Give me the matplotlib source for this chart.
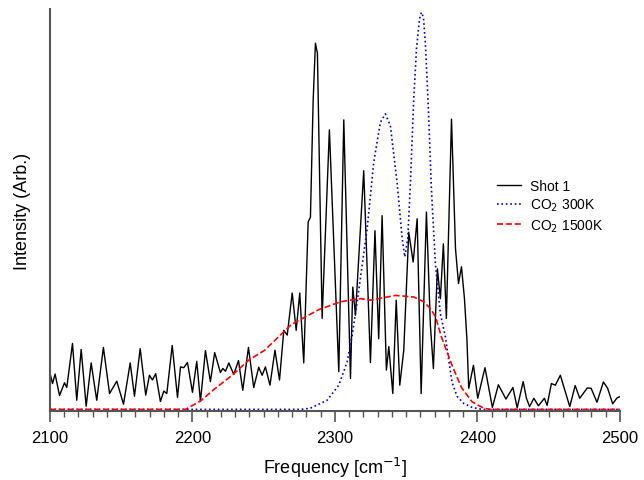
import matplotlib
matplotlib.use("Agg")
import matplotlib.pyplot as plt
from matplotlib.ticker import MultipleLocator

plt.rcParams['font.family'] = ['Liberation Sans', 'DejaVu Sans']

shot_freq = [2100.1, 2101.8, 2103.6, 2106.7, 2110.2, 2111.8, 2115.8, 2118.8, 2121.9, 2125.4,
             2128.9, 2132.8, 2137.5, 2141.8, 2146.9, 2151.6, 2156.3, 2159.3, 2163.3, 2167.2,
             2169.8, 2171.9, 2174.2, 2177.5, 2179.9, 2182.0, 2185.8, 2189.5, 2191.6, 2193.9,
             2196.5, 2200.0, 2203.0, 2205.6, 2209.1, 2212.6, 2215.6, 2219.6, 2221.3, 2223.2,
             2225.5, 2229.0, 2232.3, 2235.3, 2239.3, 2243.0, 2246.5, 2248.9, 2251.2, 2254.4,
             2257.9, 2261.1, 2264.1, 2266.5, 2270.0, 2272.8, 2275.3, 2278.1, 2281.2, 2282.8,
             2284.7, 2286.3, 2287.7, 2291.0, 2296.1, 2302.7, 2306.2, 2310.9, 2312.5, 2314.4,
             2320.2, 2324.9, 2328.1, 2330.7, 2333.1, 2336.1, 2337.8, 2340.6, 2343.0, 2345.5,
             2348.3, 2351.8, 2354.9, 2357.7, 2360.5, 2364.2, 2367.0, 2369.1, 2371.9, 2374.0,
             2376.1, 2378.2, 2381.8, 2384.6, 2386.7, 2388.8, 2390.9, 2392.6, 2393.9, 2397.2,
             2400.2, 2405.3, 2410.5, 2414.7, 2420.0, 2424.9, 2427.9, 2432.1, 2434.4, 2436.6,
             2439.6, 2442.8, 2447.0, 2448.9, 2451.9, 2454.7, 2458.2, 2464.8, 2468.6, 2471.8,
             2477.1, 2479.8, 2483.9, 2488.4, 2491.4, 2494.9, 2498.0, 2500.0]
shot_int = [9.0, 6.5, 8.9, 3.5, 6.7, 5.5, 16.6, 2.3, 15.1, 0.8,
            11.7, 2.3, 15.6, 4.0, 7.1, 1.3, 11.7, 3.3, 15.3, 3.6,
            8.6, 7.4, 9.0, 2.0, 4.6, 4.0, 16.1, 3.0, 10.7, 10.5,
            11.8, 4.3, 12.1, 2.0, 14.8, 7.0, 14.3, 9.3, 10.3, 9.6,
            11.7, 8.8, 12.3, 4.8, 15.6, 5.5, 10.6, 8.6, 10.7, 6.1,
            14.9, 7.4, 19.9, 18.7, 29.3, 19.9, 29.3, 11.7, 47.2, 48.4,
            77.7, 92.2, 89.7, 22.9, 70.4, 9.5, 72.9, 7.8, 30.8, 23.7,
            60.1, 11.8, 45.0, 17.8, 48.8, 9.9, 15.8, 4.0, 27.5, 6.1,
            14.9, 44.6, 37.1, 48.0, 4.0, 49.7, 21.1, 10.3, 35.4, 27.9,
            41.7, 22.9, 73.1, 40.5, 31.7, 35.9, 27.9, 17.8, 5.3, 11.1,
            2.8, 10.5, 0.5, 6.2, 2.6, 5.5, 0.4, 7.0, 2.8, 0.7,
            2.8, 0.9, 2.8, 1.0, 6.5, 6.1, 8.6, 0.7, 6.0, 2.8,
            5.4, 5.3, 1.8, 6.9, 5.3, 1.4, 2.9, 3.2]

# simulated CO2 band at 300 K
co2_300_freq = [2100.0, 2275.8, 2282.8, 2294.5, 2302.7, 2308.6, 2312.1, 2315.6, 2319.1, 2322.6,
                2327.2, 2331.9, 2335.4, 2338.9, 2343.6, 2347.2, 2349.0, 2351.1, 2353.0, 2355.3,
                2357.2, 2359.3, 2360.7, 2362.1, 2363.5, 2365.6, 2367.7, 2370.5, 2374.0, 2377.5,
                2379.9, 2382.2, 2385.7, 2390.4, 2396.3, 2403.3, 2500.0]
co2_300_int = [0.0, 0.0, 0.3, 2.3, 6.1, 12.0, 18.7, 27.1, 36.3, 45.5,
               62.2, 72.3, 74.4, 71.4, 57.2, 43.0, 38.4, 43.0, 57.2, 78.1,
               90.7, 98.2, 100.0, 98.7, 92.0, 75.6, 55.5, 36.7, 24.1, 18.3,
               12.3, 6.8, 3.3, 1.5, 0.5, 0.0, 0.0]

# simulated CO2 band at 1500 K
co2_1500_freq = [2100.0, 2195.1, 2205.6, 2216.1, 2227.9, 2239.5, 2250.7, 2269.5, 2288.6, 2303.9,
                 2317.9, 2324.9, 2342.5, 2355.3, 2362.3, 2367.0, 2370.5, 2374.7, 2382.2, 2388.8,
                 2396.3, 2404.4, 2409.1, 2500.0]
co2_1500_int = [0.0, 0.0, 2.1, 5.3, 8.6, 12.4, 14.9, 21.4, 25.1, 27.1,
                27.9, 27.5, 28.7, 28.3, 27.1, 25.4, 23.4, 18.3, 11.1, 5.5,
                1.9, 0.3, 0.0, 0.0]

fig = plt.figure(figsize=(6.44, 4.81), dpi=100)
ax = fig.add_axes([0.0776, 0.1435, 0.885, 0.8355])

ax.plot(shot_freq, shot_int, color='black', lw=1.0, solid_joinstyle='round', label='Shot 1')
ax.plot(co2_300_freq, co2_300_int, color='#0000cc', lw=1.2, ls=':', label='CO$_2$ 300K')
ax.plot(co2_1500_freq, co2_1500_int, color='red', lw=1.2, ls='--', label='CO$_2$ 1500K')

ax.set_xlim(2100, 2500)
ax.set_ylim(-0.4, 100.8)
ax.xaxis.set_major_locator(MultipleLocator(100))
ax.xaxis.set_minor_locator(MultipleLocator(10))
ax.set_yticks([])

for s in ['top', 'right']:
    ax.spines[s].set_visible(False)
for s in ['left', 'bottom']:
    ax.spines[s].set_color('#555555')
    ax.spines[s].set_linewidth(1.5)

ax.tick_params(axis='x', which='major', direction='out', length=8, width=1.2,
               color='#555555', labelsize=12, pad=6)
ax.tick_params(axis='x', which='minor', direction='out', length=4, width=1.0, color='#555555')

ax.set_xlabel('Frequency [cm$^{-1}$]', fontsize=13, labelpad=7)
ax.set_ylabel('Intensity (Arb.)', fontsize=13, labelpad=14)

ax.legend(loc='upper left', bbox_to_anchor=(0.774, 0.592), frameon=False, fontsize=10,
          handlelength=1.75, handletextpad=0.65, labelspacing=0.3, borderaxespad=0)

fig.savefig('out.png', dpi=100)
